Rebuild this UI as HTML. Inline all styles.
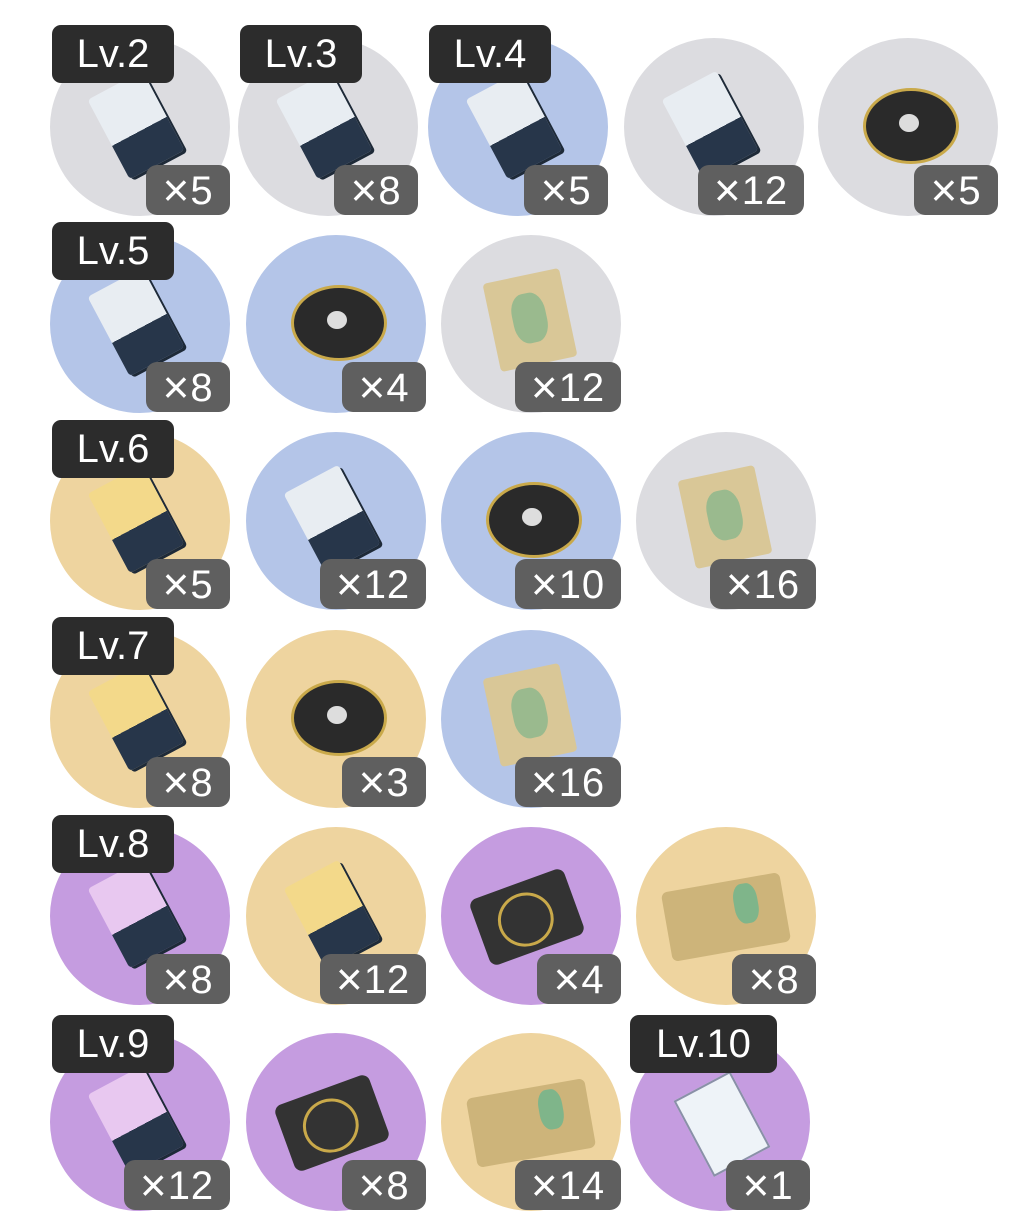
<!DOCTYPE html>
<html><head><meta charset="utf-8"><style>
body{margin:0;width:1009px;height:1230px;background:#fff;position:relative;overflow:hidden;font-family:"Liberation Sans","Noto Sans CJK SC",sans-serif}
.c{position:absolute;width:180px;height:178px;border-radius:50%}
.g{background:#dcdce0}.b{background:#b4c5e8}.y{background:#eed49f}.p{background:#c59ce0}
.q{position:absolute;right:0;bottom:1px;width:84px;height:50px;border-radius:11px;background:#5f5f5f;color:#fff;font-size:40px;line-height:50px;text-align:center;letter-spacing:1px}
.q.w{width:106px}
.q span{font-size:46px;font-weight:normal;vertical-align:-2px}
.l{position:absolute;width:122px;height:58px;border-radius:9px;background:#2c2c2c;color:#fff;font-size:40px;line-height:58px;text-align:center}
.l.w{width:147px}
.bk{position:absolute;left:55px;top:42px;width:62px;height:90px;border-radius:4px;transform:rotate(-28deg);background:linear-gradient(#e8edf2 0 58%,#27364a 58%);box-shadow:2px 3px 0 #1e2a38}
.bk.gd{background:linear-gradient(#f3d98a 0 58%,#27364a 58%)}
.bk.pu{background:linear-gradient(#e8c8f0 0 58%,#27364a 58%)}
.dk{position:absolute;left:45px;top:50px;width:90px;height:70px;border-radius:50%;background:#2a2a2a;border:3px solid #c9a94a}
.dk:after{content:"";position:absolute;left:33px;top:23px;width:20px;height:18px;border-radius:50%;background:#ddd}
.pa{position:absolute;left:50px;top:40px;width:78px;height:90px;background:#d9c797;transform:rotate(-12deg);border-radius:4px}
.pa:after{content:"";position:absolute;left:22px;top:18px;width:34px;height:50px;border-radius:40%;background:#7fb58a;opacity:.7}
.hd{position:absolute;left:36px;top:55px;width:100px;height:70px;background:#333;border-radius:8px;transform:rotate(-20deg)}
.hd:after{content:"";position:absolute;left:20px;top:10px;width:50px;height:48px;border-radius:50%;border:3px solid #c9a94a}
.ob{position:absolute;left:30px;top:55px;width:120px;height:70px;background:#cdb47a;border-radius:6px;transform:rotate(-10deg)}
.ob:after{content:"";position:absolute;left:70px;top:5px;width:24px;height:40px;border-radius:40%;background:#7fb58a}
.te{position:absolute;left:60px;top:48px;width:60px;height:82px;background:#eef3f8;border:2px solid #8a90a8;transform:rotate(-28deg)}
</style></head><body>

<div class="c g" style="left:50px;top:38px"><div class="bk"></div><div class="q"><span>×</span>5</div></div>
<div class="c g" style="left:238px;top:38px"><div class="bk"></div><div class="q"><span>×</span>8</div></div>
<div class="c b" style="left:428px;top:38px"><div class="bk"></div><div class="q"><span>×</span>5</div></div>
<div class="c g" style="left:624px;top:38px"><div class="bk"></div><div class="q w"><span>×</span>12</div></div>
<div class="c g" style="left:818px;top:38px"><div class="dk"></div><div class="q"><span>×</span>5</div></div>
<div class="l" style="left:52px;top:25px">Lv.2</div>
<div class="l" style="left:240px;top:25px">Lv.3</div>
<div class="l" style="left:429px;top:25px">Lv.4</div>

<div class="c b" style="left:50px;top:235px"><div class="bk"></div><div class="q"><span>×</span>8</div></div>
<div class="c b" style="left:246px;top:235px"><div class="dk"></div><div class="q"><span>×</span>4</div></div>
<div class="c g" style="left:441px;top:235px"><div class="pa"></div><div class="q w"><span>×</span>12</div></div>
<div class="l" style="left:52px;top:222px">Lv.5</div>

<div class="c y" style="left:50px;top:432px"><div class="bk gd"></div><div class="q"><span>×</span>5</div></div>
<div class="c b" style="left:246px;top:432px"><div class="bk"></div><div class="q w"><span>×</span>12</div></div>
<div class="c b" style="left:441px;top:432px"><div class="dk"></div><div class="q w"><span>×</span>10</div></div>
<div class="c g" style="left:636px;top:432px"><div class="pa"></div><div class="q w"><span>×</span>16</div></div>
<div class="l" style="left:52px;top:420px">Lv.6</div>

<div class="c y" style="left:50px;top:630px"><div class="bk gd"></div><div class="q"><span>×</span>8</div></div>
<div class="c y" style="left:246px;top:630px"><div class="dk"></div><div class="q"><span>×</span>3</div></div>
<div class="c b" style="left:441px;top:630px"><div class="pa"></div><div class="q w"><span>×</span>16</div></div>
<div class="l" style="left:52px;top:617px">Lv.7</div>

<div class="c p" style="left:50px;top:827px"><div class="bk pu"></div><div class="q"><span>×</span>8</div></div>
<div class="c y" style="left:246px;top:827px"><div class="bk gd"></div><div class="q w"><span>×</span>12</div></div>
<div class="c p" style="left:441px;top:827px"><div class="hd"></div><div class="q"><span>×</span>4</div></div>
<div class="c y" style="left:636px;top:827px"><div class="ob"></div><div class="q"><span>×</span>8</div></div>
<div class="l" style="left:52px;top:815px">Lv.8</div>

<div class="c p" style="left:50px;top:1033px"><div class="bk pu"></div><div class="q w"><span>×</span>12</div></div>
<div class="c p" style="left:246px;top:1033px"><div class="hd"></div><div class="q"><span>×</span>8</div></div>
<div class="c y" style="left:441px;top:1033px"><div class="ob"></div><div class="q w"><span>×</span>14</div></div>
<div class="c p" style="left:630px;top:1033px"><div class="te"></div><div class="q"><span>×</span>1</div></div>
<div class="l" style="left:52px;top:1015px">Lv.9</div>
<div class="l w" style="left:630px;top:1015px">Lv.10</div>

</body></html>
